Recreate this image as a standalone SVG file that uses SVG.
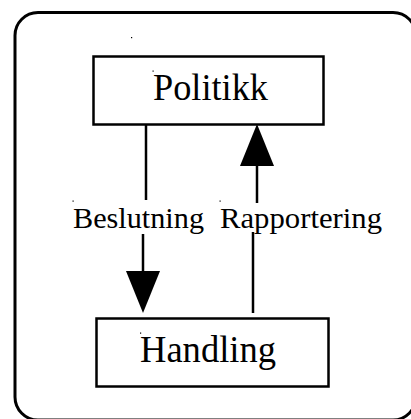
<svg xmlns="http://www.w3.org/2000/svg" width="411" height="419" viewBox="0 0 411 419">
<defs>
<style>
.box{fill:#fff;stroke:#000;stroke-width:2.5}
.ln{stroke:#000;stroke-width:2.5;fill:none}
.hd{fill:#000;stroke:none}
.t{font-family:"Liberation Serif","Times New Roman",serif;fill:#000}
.dot{fill:#000}
</style>
</defs>
<rect x="15" y="12.5" width="401" height="407.5" rx="23" ry="23" fill="#fff" stroke="#000" stroke-width="3"/>
<rect class="dot" x="131" y="37" width="1.2" height="1.2"/>
<g id="connectors">
<line class="ln" x1="146" y1="125" x2="146" y2="200"/>
<line class="ln" x1="143" y1="234" x2="143" y2="275"/>
<polygon class="hd" points="126,271 160,271 143,313"/>
<rect class="dot" x="72.5" y="200.5" width="1.2" height="1.2"/>
<text class="t" x="73" y="228" font-size="30" textLength="131" lengthAdjust="spacingAndGlyphs">Beslutning</text>
<line class="ln" x1="253" y1="232" x2="253" y2="313"/>
<line class="ln" x1="257" y1="160" x2="257" y2="203"/>
<polygon class="hd" points="257,124 240,166 274,166"/>
<rect class="dot" x="219.5" y="200.5" width="1.2" height="1.2"/>
<text class="t" x="220" y="228" font-size="30" textLength="162" lengthAdjust="spacingAndGlyphs">Rapportering</text>
</g>
<g id="politikk">
<rect class="box" x="93.5" y="56.5" width="230" height="68"/>
<rect class="dot" x="152.5" y="70.5" width="1.2" height="1.2"/>
<text class="t" x="153" y="100" font-size="37" textLength="115" lengthAdjust="spacingAndGlyphs">Politikk</text>
</g>
<g id="handling">
<rect class="box" x="96.5" y="318.5" width="232" height="68"/>
<rect class="dot" x="140" y="332.5" width="1.2" height="1.2"/>
<text class="t" x="140" y="362" font-size="37" textLength="136" lengthAdjust="spacingAndGlyphs">Handling</text>
</g>
</svg>
